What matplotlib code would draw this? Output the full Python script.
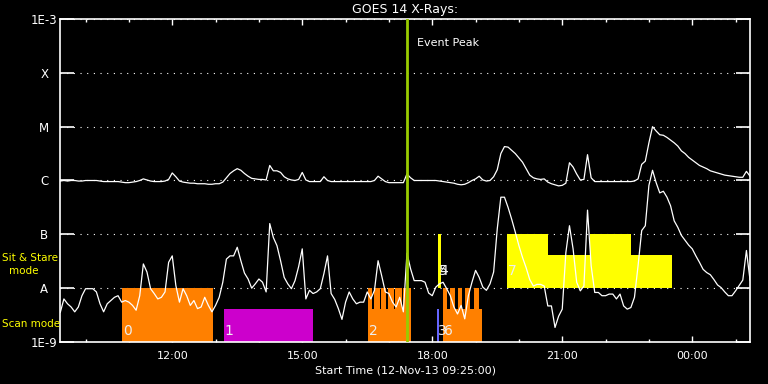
"""
GOES 14 X-ray light curves with the observing-mode timeline underneath.
"""
import numpy as np
import matplotlib
matplotlib.use("Agg")
import matplotlib.pyplot as plt
from matplotlib.ticker import FixedLocator, FuncFormatter, NullLocator

# sample times, minutes after 12-Nov-13 09:25:00 (5 min cadence)
t_min = np.arange(0, 956, 5)

# log10 flux (W/m^2), one line per hour
long_log = [
    -6.01, -6.00, -6.01, -6.00, -6.00, -6.01, -6.01, -6.00, -6.00, -6.00, -6.00, -6.01,
    -6.02, -6.02, -6.02, -6.02, -6.02, -6.03, -6.04, -6.04, -6.03, -6.02, -6.00, -5.97,
    -5.99, -6.01, -6.02, -6.02, -6.02, -6.01, -5.98, -5.86, -5.93, -6.01, -6.03, -6.04,
    -6.05, -6.05, -6.06, -6.06, -6.06, -6.07, -6.07, -6.06, -6.06, -6.03, -5.95, -5.87,
    -5.82, -5.78, -5.81, -5.87, -5.92, -5.96, -5.97, -5.98, -5.98, -5.99, -5.72, -5.82,
    -5.82, -5.85, -5.93, -5.97, -5.99, -6.00, -5.98, -5.85, -5.99, -6.02, -6.02, -6.02,
    -6.02, -5.93, -6.00, -6.02, -6.02, -6.02, -6.02, -6.02, -6.02, -6.02, -6.02, -6.02,
    -6.02, -6.02, -6.02, -6.00, -5.92, -5.97, -6.02, -6.04, -6.04, -6.04, -6.04, -6.04,
    -5.88, -5.95, -6.00, -6.00, -6.00, -6.00, -6.00, -6.00, -6.00, -6.01, -6.02, -6.03,
    -6.04, -6.05, -6.07, -6.08, -6.07, -6.04, -6.00, -5.97, -5.92, -5.99, -6.01, -6.00,
    -5.93, -5.80, -5.50, -5.37, -5.38, -5.44, -5.50, -5.58, -5.66, -5.78, -5.90, -5.95,
    -5.97, -5.98, -5.97, -6.03, -6.06, -6.08, -6.10, -6.09, -6.05, -5.67, -5.75, -5.88,
    -5.99, -5.98, -5.52, -5.95, -6.02, -6.02, -6.02, -6.02, -6.02, -6.02, -6.02, -6.02,
    -6.02, -6.02, -6.02, -6.01, -5.97, -5.70, -5.64, -5.30, -5.00, -5.08, -5.15, -5.16,
    -5.20, -5.25, -5.30, -5.36, -5.45, -5.50, -5.57, -5.62, -5.67, -5.72, -5.75, -5.78,
    -5.82, -5.84, -5.86, -5.88, -5.90, -5.91, -5.92, -5.93, -5.94, -5.94, -5.83, -5.92,
]
short_log = [
    -8.45, -8.20, -8.29, -8.35, -8.44, -8.35, -8.14, -8.01, -8.01, -8.01, -8.07, -8.29,
    -8.44, -8.29, -8.23, -8.17, -8.14, -8.26, -8.23, -8.26, -8.32, -8.41, -8.14, -7.55,
    -7.70, -8.01, -8.10, -8.20, -8.17, -8.07, -7.52, -7.40, -7.95, -8.26, -8.01, -8.14,
    -8.32, -8.23, -8.38, -8.35, -8.17, -8.32, -8.44, -8.32, -8.17, -7.89, -7.46, -7.40,
    -7.40, -7.24, -7.49, -7.72, -7.83, -8.00, -7.92, -7.83, -7.89, -8.07, -6.80, -7.06,
    -7.21, -7.49, -7.80, -7.92, -8.01, -7.86, -7.60, -7.27, -8.20, -8.04, -8.10, -8.07,
    -8.01, -7.73, -7.40, -8.10, -8.21, -8.38, -8.58, -8.26, -8.07, -8.20, -8.29, -8.26,
    -8.26, -8.07, -8.20, -8.04, -7.49, -7.77, -8.07, -8.10, -8.26, -8.35, -8.17, -8.44,
    -7.35, -7.64, -7.86, -7.86, -7.86, -7.89, -8.09, -8.14, -7.98, -7.92, -7.89, -8.01,
    -8.14, -8.35, -8.48, -8.32, -8.57, -8.14, -7.89, -7.67, -7.80, -7.98, -8.04, -7.92,
    -7.70, -6.90, -6.31, -6.31, -6.50, -6.72, -6.96, -7.21, -7.43, -7.62, -7.84, -7.96,
    -7.93, -7.93, -7.96, -8.33, -8.33, -8.73, -8.52, -8.39, -7.34, -6.84, -7.27, -7.89,
    -8.05, -7.96, -6.55, -7.58, -8.08, -8.08, -8.14, -8.14, -8.11, -8.11, -8.20, -8.11,
    -8.33, -8.39, -8.36, -8.17, -7.58, -6.93, -6.84, -6.09, -5.81, -6.04, -6.23, -6.20,
    -6.31, -6.47, -6.75, -6.87, -7.02, -7.11, -7.20, -7.27, -7.40, -7.52, -7.65, -7.71,
    -7.75, -7.84, -7.94, -7.99, -8.07, -8.14, -8.14, -8.05, -7.95, -7.85, -7.30, -7.85,
]

# observing modes (minutes after start)
scan_full = [(85, 211)]                      # obs 0
scan_raster1 = [(226, 350)]                  # obs 1
scan_low = [(426, 486), (530, 584)]          # obs 2, obs 6 base
scan_teeth = [(426, 431), (434, 442), (444, 451), (454, 462), (464, 473), (475, 486),
              (530, 536), (540, 546), (550, 556), (560, 567), (573, 580)]
scan_obs3 = [(521, 525)]
stare_obs45 = [(523, 527)]
stare_low = [(619, 847)]                     # obs 7
stare_high = [(619, 675), (733, 790)]
obs_labels = ["0", "1", "2", "3", "6", "4", "5", "7"]
obs_label_t = [85, 226, 426, 521, 530, 523, 523, 619]
obs_label_mode = ["scan", "scan", "scan", "scan", "scan", "stare", "stare", "stare"]
event_peak = 480

# mode band levels (flux)
scan_bottom, scan_mid, scan_top = 1e-9, 10 ** -8.38, 1e-8
stare_mid, stare_top = 10 ** -7.38, 1e-7

START = 9 * 60 + 25


def clock(m, pos=None):
    m = int(round(START + m)) % 1440
    return "%02d:%02d" % (m // 60, m % 60)


def draw_blocks(ax, spans, bottom, top, color):
    left = [s for s, e in spans]
    width = [e - s for s, e in spans]
    ax.bar(left, [top - bottom] * len(spans), width=width, bottom=bottom,
           align="edge", color=color, linewidth=0, zorder=2)


fig = plt.figure(figsize=(7.68, 3.84), dpi=100, facecolor="black")
ax = fig.add_axes([0.0785, 0.1094, 0.8981, 0.8411], facecolor="black")
ax.set_yscale("log")
ax.set_ylim(1e-9, 1e-3)
ax.set_xlim(0, 955)

draw_blocks(ax, scan_full, scan_bottom, scan_top, "#FF8000")
draw_blocks(ax, scan_raster1, scan_bottom, scan_mid, "#CC00CC")
draw_blocks(ax, scan_low, scan_bottom, scan_mid, "#FF8000")
draw_blocks(ax, scan_teeth, scan_mid, scan_top, "#FF8000")
draw_blocks(ax, scan_obs3, scan_bottom, scan_mid, "#6666FF")
draw_blocks(ax, stare_obs45, scan_top, stare_top, "#FFFF00")
draw_blocks(ax, stare_low, scan_top, stare_mid, "#FFFF00")
draw_blocks(ax, stare_high, stare_mid, stare_top, "#FFFF00")

for lab, t, mode in zip(obs_labels, obs_label_t, obs_label_mode):
    base = scan_bottom if mode == "scan" else scan_top
    ax.annotate(lab, (t, base), xytext=(1, 4 if mode == "scan" else 10),
                textcoords="offset pixels", color="#EEEEEE", fontsize=10,
                ha="left", va="bottom", zorder=5)

ax.plot(t_min, 10 ** np.array(long_log), color="white", lw=0.9, zorder=4)
ax.plot(t_min, 10 ** np.array(short_log), color="white", lw=0.9, zorder=4)

ax.axvline(event_peak, color="#99CC00", lw=2, zorder=6)
ax.annotate("Event Peak", (event_peak, 1e-3), xytext=(10, -24),
            textcoords="offset pixels", color="white", fontsize=8,
            ha="left", va="center")

# axes styling
for sp in ax.spines.values():
    sp.set_color("white")
    sp.set_linewidth(1.2)

ax.set_yticks([1e-3, 1e-4, 1e-5, 1e-6, 1e-7, 1e-8, 1e-9],
              ["1E-3", "X", "M", "C", "B", "A", "1E-9"])
ax.yaxis.set_minor_locator(NullLocator())
ax.tick_params(axis="y", which="major", direction="in", length=10, width=1.2,
               left=True, right=True, colors="white", labelsize=8.5, pad=11.5)
for lab in ax.get_yticklabels():
    lab.set_ha("center")
ax.yaxis.grid(True, which="major", color="white", lw=0.8, linestyle=(0, (1, 5)))
ax.set_axisbelow(True)

ax.xaxis.set_major_locator(FixedLocator([155, 335, 515, 695, 875]))
ax.xaxis.set_minor_locator(FixedLocator(list(range(35, 955, 60))))
ax.xaxis.set_major_formatter(FuncFormatter(clock))
ax.tick_params(axis="x", which="major", direction="in", length=4.5, width=1,
               top=True, bottom=True, colors="white", labelsize=8, pad=6.5)
ax.tick_params(axis="x", which="minor", direction="in", length=2.3, width=1,
               top=True, bottom=True, colors="white")

ax.set_xlabel("Start Time (12-Nov-13 09:25:00)", color="white", fontsize=8,
              labelpad=3)
ax.set_title("GOES 14 X-Rays:", color="white", fontsize=9, pad=4)

fig.text(2 / 768, 1 - 258 / 384, "Sit & Stare", color="yellow", fontsize=7.5,
         ha="left", va="center")
fig.text(24 / 768, 1 - 271 / 384, "mode", color="yellow", fontsize=7.5,
         ha="center", va="center")
fig.text(2 / 768, 1 - 324 / 384, "Scan mode", color="yellow", fontsize=7.5,
         ha="left", va="center")

fig.savefig("out.png", dpi=100, facecolor="black")
